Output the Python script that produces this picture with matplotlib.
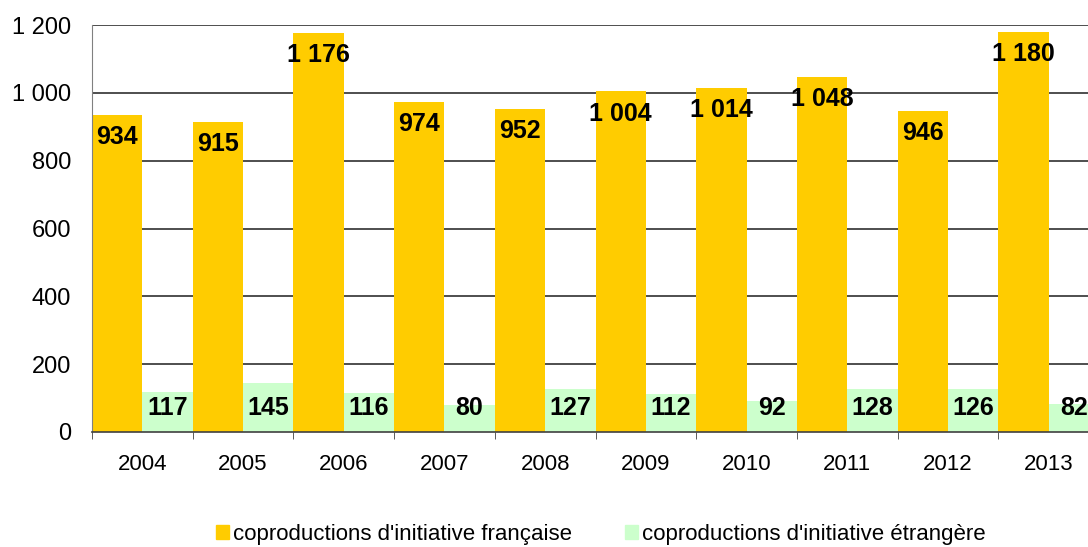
import numpy as np
import matplotlib
matplotlib.use('Agg')
from matplotlib import pyplot as plt
from matplotlib.patches import Patch

plt.rcParams['font.family'] = ['Liberation Sans', 'DejaVu Sans']

# données
annees = ['2004', '2005', '2006', '2007', '2008', '2009', '2010', '2011', '2012', '2013']
francaise = [934, 915, 1176, 974, 952, 1004, 1014, 1048, 946, 1180]
etrangere = [117, 145, 116, 80, 127, 112, 92, 128, 126, 82]

jaune = '#FFCC00'
vert = '#CCFFCC'


def fmt(v):
    return '{:,}'.format(v).replace(',', ' ')


fig = plt.figure(figsize=(10.88, 5.47), dpi=100)
ax = fig.add_axes([92 / 1088, 1 - 432 / 547, 1007 / 1088, 407 / 547])

x = np.arange(len(annees))
ax.bar(x - 0.25, francaise, width=0.5, color=jaune, zorder=2)
ax.bar(x + 0.25, etrangere, width=0.5, color=vert, zorder=2)

for i in range(len(annees)):
    ax.text(x[i] - 0.25, francaise[i] - 30, fmt(francaise[i]), ha='center', va='top',
            fontsize=18, fontweight='bold', zorder=3)
    ax.text(x[i] + 0.25, 71, fmt(etrangere[i]), ha='center', va='center',
            fontsize=18, fontweight='bold', zorder=3)

ax.set_xlim(-0.5, len(annees) - 0.5)
ax.set_ylim(0, 1200)
ax.set_yticks(np.arange(0, 1201, 200))
ax.set_yticklabels([fmt(v) for v in range(0, 1201, 200)], fontsize=17)
ax.yaxis.grid(True, color='#303030', linewidth=1.2, zorder=1)
ax.set_axisbelow(True)
ax.tick_params(axis='y', length=0, pad=15)

ax.set_xticks(x)
ax.set_xticklabels(annees, fontsize=16)
ax.set_xticks(np.arange(-0.5, len(annees), 1.0), minor=True)
ax.tick_params(axis='x', which='major', length=0, pad=16)
ax.tick_params(axis='x', which='minor', length=5, color='#404040')

for s in ['top', 'right']:
    ax.spines[s].set_visible(False)
ax.spines['left'].set_color('#808080')
ax.spines['bottom'].set_color('#404040')
ax.spines['bottom'].set_linewidth(1.2)

handles = [Patch(color=jaune, label="coproductions d'initiative française"),
           Patch(color=vert, label="coproductions d'initiative étrangère")]
fig.legend(handles=handles, loc='lower center', bbox_to_anchor=(0.552, -0.033), ncol=2,
           frameon=False, fontsize=16, handlelength=0.6, handleheight=0.6,
           handletextpad=0.15, columnspacing=2.4)

plt.savefig('out.png', dpi=100)
